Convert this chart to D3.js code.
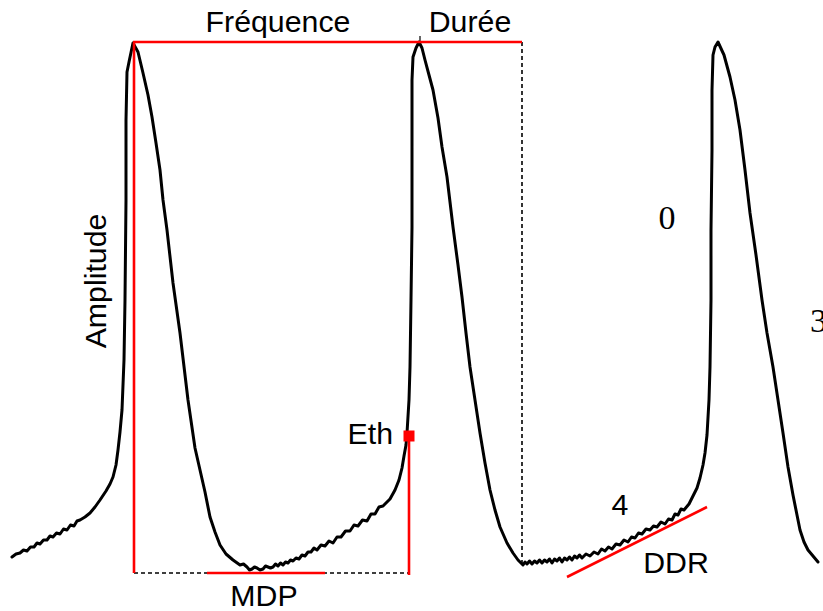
<!DOCTYPE html>
<html>
<head>
<meta charset="utf-8">
<script src="https://cdn.jsdelivr.net/npm/d3@7"></script>
<style>
  html, body { margin: 0; padding: 0; background: #fff; }
  svg { display: block; }
</style>
</head>
<body>
<svg id="chart" width="823" height="611"></svg>
<script>
// ---- Data: time (ms) and membrane potential (mV) ----
const cycle1Rise = [[0,-76.8],[8,-76.2],[16,-76.0],[23,-75.4],[30,-75.6],[37,-74.8],[44,-74.8],[50,-74.0],[56,-74.2],[63,-73.4],[70,-73.4],[76,-72.6],[82,-72.8],[89,-72.0],[96,-72.2],[103,-71.2],[110,-71.4],[117,-70.4],[124,-70.6],[130,-69.6],[136,-69.4],[146,-68.8],[156,-68.0],[166,-66.8],[176,-65.4],[188,-63.6],[196,-62.2],[202,-60.8],[208,-58.4],[212,-55.4],[216,-51.8],[220,-47.4],[224,-37.4],[226,-25.4],[228,-5.4],[228,10.6],[230,20.2],[234,22.2],[242,26.0]];
const cycle1Fall = [[252,24.2],[262,20.0],[272,15.6],[280,11.2],[288,6.0],[296,0.6],[302,-5.4],[310,-11.4],[322,-22.0],[336,-32.0],[352,-45.4],[366,-55.0],[376,-59.4],[386,-63.8],[396,-68.8],[406,-71.8],[416,-74.4],[428,-76.2],[442,-77.4],[456,-78.4],[463,-78.2],[470,-78.8],[475,-79.4],[480,-79.2],[485,-78.8],[490,-79.0],[496,-79.4],[502,-79.2],[507,-78.6],[512,-78.8],[517,-79.0],[522,-78.8],[527,-78.2],[532,-78.6],[537,-78.0],[542,-78.4],[547,-77.8],[552,-78.0],[557,-77.4],[562,-77.6],[568,-77.0],[574,-77.2],[580,-76.4],[586,-76.6],[592,-75.8],[598,-75.8],[604,-75.0],[610,-75.4],[618,-74.4],[626,-74.6],[634,-73.6],[642,-74.0],[650,-72.8],[658,-72.8],[667,-71.6],[676,-71.6],[684,-70.4],[692,-70.6],[701,-69.4],[710,-69.6],[718,-68.2],[726,-68.2],[734,-66.8],[742,-66.6],[756,-65.2],[766,-63.4],[774,-61.4],[780,-59.0],[784,-56.6],[788,-54.4],[790,-52.0],[794,-45.4],[796,-38.8],[798,-25.4],[800,-10.8],[800,6.6],[800,18.6],[802,23.2],[808,25.0],[814,26.2]];
const cycle2Fall = [[820,25.0],[826,22.6],[834,19.6],[842,16.6],[852,11.0],[860,5.2],[870,-0.8],[882,-10.8],[892,-18.4],[900,-24.8],[908,-32.0],[916,-38.8],[926,-45.4],[936,-52.0],[946,-58.0],[956,-63.4],[966,-67.4],[976,-70.8],[990,-74.0],[1002,-76.0],[1012,-77.4],[1022,-78.4],[1026,-77.8],[1030,-78.2],[1035,-77.6],[1040,-78.2],[1045,-77.6],[1050,-78.0],[1055,-77.4],[1060,-78.0],[1065,-77.4],[1070,-77.8],[1075,-77.2],[1080,-78.0],[1085,-77.2],[1090,-77.6],[1095,-77.0],[1100,-77.8],[1105,-77.0],[1110,-77.4],[1115,-76.8],[1120,-77.4],[1125,-76.6],[1130,-77.0],[1135,-76.4],[1140,-77.0],[1148,-76.2],[1156,-76.6],[1164,-75.8],[1172,-76.2],[1179,-75.2],[1186,-75.6],[1193,-74.8],[1200,-75.2],[1208,-74.2],[1216,-74.4],[1224,-73.4],[1232,-73.8],[1239,-72.8],[1246,-73.0],[1253,-72.0],[1260,-72.2],[1268,-71.2],[1276,-71.4],[1283,-70.6],[1290,-70.8],[1298,-69.8],[1306,-70.2],[1313,-69.2],[1320,-69.4],[1326,-68.2],[1332,-68.4],[1338,-67.2],[1344,-67.4],[1354,-66.2],[1362,-64.6],[1370,-63.0],[1376,-61.0],[1382,-58.4],[1386,-56.0],[1390,-52.4],[1394,-45.4],[1396,-38.8],[1398,-25.4],[1398,-11.4],[1400,4.6],[1400,16.6],[1402,23.6],[1406,25.2],[1412,26.2]];
const cycle3Fall = [[1424,23.6],[1436,19.2],[1446,14.6],[1456,8.6],[1466,0.6],[1476,-8.0],[1488,-16.4],[1500,-25.4],[1510,-32.0],[1522,-38.8],[1532,-45.4],[1542,-52.0],[1552,-58.8],[1562,-64.4],[1570,-68.4],[1576,-71.4],[1584,-73.8],[1592,-75.4],[1602,-76.6],[1612,-77.8]];

// annotation values (ms, mV)
const peakMv = 26.2;
const mdpMv = -80;
const peakTimes = [242, 814];
const durationEnd = 1020;
const durationFootMv = -78;
const amplitudeT = 244;
const ethPoint = [794, -52.6];
const mdpSegment = [390, 626];
const ddrLine = [[1110, -80.8], [1390, -66.8]];
const spike = [[816, 26.2], [816, 27.4]];

const labelsSans = ["Fréquence", "Durée", "Amplitude", "Eth", "MDP", "DDR", "4"];
const labelsSerif = ["0", "3"];

// ---- Scales ----
const x = d3.scaleLinear().domain([0, 1600]).range([12, 812]);
const y = d3.scaleLinear().domain([-80, 26.2]).range([573, 42]);

const svg = d3.select("#chart");
const RED = "#ff0000";

const line = d3.line().x(d => x(d[0])).y(d => y(d[1])).curve(d3.curveLinear);

// dashed black guides
svg.append("line")
  .attr("x1", x(amplitudeT)).attr("x2", x(ethPoint[0]))
  .attr("y1", y(mdpMv)).attr("y2", y(mdpMv))
  .attr("stroke", "#000").attr("stroke-width", 1.6).attr("stroke-dasharray", "4,3");
svg.append("line")
  .attr("x1", x(durationEnd)).attr("x2", x(durationEnd))
  .attr("y1", y(peakMv)).attr("y2", y(durationFootMv))
  .attr("stroke", "#000").attr("stroke-width", 1.6).attr("stroke-dasharray", "4,3");

// trace
const trace = [].concat(cycle1Rise, cycle1Fall, cycle2Fall, cycle3Fall);
svg.append("path")
  .datum(trace)
  .attr("d", line)
  .attr("fill", "none")
  .attr("stroke", "#000")
  .attr("stroke-width", 3)
  .attr("stroke-linejoin", "round")
  .attr("stroke-linecap", "round");

svg.append("path").datum(spike).attr("d", line)
  .attr("stroke", "#000").attr("stroke-width", 1.2).attr("fill", "none");

// red annotations
svg.append("line")
  .attr("x1", x(peakTimes[0])).attr("x2", x(durationEnd))
  .attr("y1", y(peakMv)).attr("y2", y(peakMv))
  .attr("stroke", RED).attr("stroke-width", 2.6);
svg.append("line")
  .attr("x1", x(amplitudeT)).attr("x2", x(amplitudeT))
  .attr("y1", y(peakMv)).attr("y2", y(mdpMv))
  .attr("stroke", RED).attr("stroke-width", 2.6);
svg.append("line")
  .attr("x1", x(mdpSegment[0])).attr("x2", x(mdpSegment[1]))
  .attr("y1", y(mdpMv)).attr("y2", y(mdpMv))
  .attr("stroke", RED).attr("stroke-width", 2.6);
svg.append("line")
  .attr("x1", x(ethPoint[0])).attr("x2", x(ethPoint[0]))
  .attr("y1", y(ethPoint[1])).attr("y2", y(mdpMv - 0.4))
  .attr("stroke", RED).attr("stroke-width", 2.6);
svg.append("rect")
  .attr("x", x(ethPoint[0]) - 5.5).attr("y", y(ethPoint[1]) - 5.5)
  .attr("width", 11).attr("height", 11).attr("fill", RED);
svg.append("path").datum(ddrLine).attr("d", line)
  .attr("stroke", RED).attr("stroke-width", 2.6).attr("fill", "none");

// labels
const sans = "'Liberation Sans', Arial, sans-serif";
const serif = "'Liberation Serif', 'Times New Roman', serif";
const sansLayout = [
  {px: 278, py: 32, anchor: "middle"},
  {px: 470, py: 32, anchor: "middle"},
  {px: 106, py: 281, anchor: "middle", rotate: -90},
  {px: 393, py: 444, anchor: "end"},
  {px: 264, py: 606, anchor: "middle"},
  {px: 676, py: 573, anchor: "middle"},
  {px: 620, py: 515, anchor: "middle"}
];
labelsSans.forEach((t, i) => {
  const L = sansLayout[i];
  svg.append("text")
    .attr("transform", `translate(${L.px},${L.py})` + (L.rotate ? ` rotate(${L.rotate})` : ""))
    .attr("text-anchor", L.anchor)
    .attr("font-family", sans).attr("font-size", 30.3).attr("fill", "#000")
    .text(t);
});
const serifLayout = [
  {px: 667, py: 229, anchor: "middle"},
  {px: 810, py: 332, anchor: "start"}
];
labelsSerif.forEach((t, i) => {
  const L = serifLayout[i];
  svg.append("text")
    .attr("x", L.px).attr("y", L.py)
    .attr("text-anchor", L.anchor)
    .attr("font-family", serif).attr("font-size", 34).attr("fill", "#000")
    .text(t);
});
</script>
</body>
</html>
